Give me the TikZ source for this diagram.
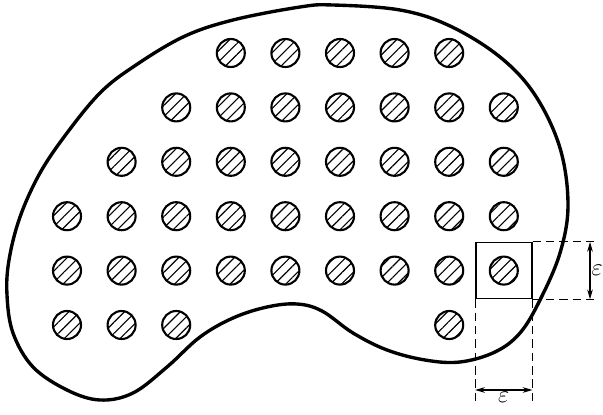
\documentclass[tikz,border=0pt]{standalone}
\usetikzlibrary{arrows.meta, patterns.meta}

\begin{document}
\begin{tikzpicture}[x=0.025cm, y=-0.025cm,
    bead/.style={circle, draw, line width=1.5pt, minimum size=0.7cm,
                 inner sep=0pt,
                 pattern={Lines[angle=45, distance=5.6pt, line width=0.8pt]}},
    outline/.style={line width=2.4pt, line join=round},
    cellbox/.style={draw, line width=1pt, minimum size=1.4cm, inner sep=0pt},
    guide/.style={dash pattern=on 6pt off 3.5pt, line width=0.8pt},
    dimline/.style={{Stealth[length=7pt, width=4pt]}-{Stealth[length=7pt, width=4pt]},
                    line width=0.8pt},
    dimlabel/.style={font=\LARGE, inner sep=1pt},
  ]

  \def\cs{54.6}   % column pitch
  \def\rs{54.4}   % row pitch

  \useasboundingbox (0,0) rectangle (603,414);

  % =========================================================
  %  region boundary
  % =========================================================
  \draw[outline] plot[smooth cycle, tension=0.6] coordinates {
    (333,5) (400,10) (450,26) (500,57) (535,95) (560,148)
    (568,205) (560,253) (540,300) (520,333) (495,352) (460,362)
    (425,360) (387,350) (353,333) (322,311) (297,304) (267,307)
    (233,318) (200,337) (167,367) (133,393) (100,400) (67,390)
    (33,367) (13,333) (7,295) (9,260) (20,217) (40,173) (67,133)
    (100,93) (133,67) (183,37) (233,20) (300,7)};

  % =========================================================
  %  hatched inclusions
  % =========================================================
  \foreach \r/\first/\last in {0/3/7, 1/2/8, 2/1/8, 3/0/8, 4/0/8}{
    \foreach \c in {\first,...,\last}{
      \node[bead] (h\r\c) at (67+\c*\cs, 53+\r*\rs) {};
    }
  }
  \foreach \c in {0,1,2,7}{
    \node[bead] (h5\c) at (67+\c*\cs, 53+5*\rs) {};
  }

  % unit cell round one inclusion
  \node[cellbox] (sq) at (h48) {};

  % =========================================================
  %  dimensions
  % =========================================================
  \coordinate (gx) at (598,0);
  \coordinate (ax) at (590,0);
  \coordinate (gy) at (0,401);
  \coordinate (ay) at (0,390);

  \draw[guide] (sq.north east) -- (sq.north east -| gx);
  \draw[guide] (sq.south east) -- (sq.south east -| gx);
  \draw[dimline] (sq.north east -| ax) -- (sq.south east -| ax);
  \node[dimlabel, anchor=west] (epsR) at (sq.east -| ax) {$\varepsilon$};

  \draw[guide] (sq.south west) -- (sq.south west |- gy);
  \draw[guide] (sq.south east) -- (sq.south east |- gy);
  \draw[dimline] (sq.south west |- ay) -- (sq.south east |- ay);
  \node[dimlabel, anchor=north] (epsB) at (sq.south |- ay) {$\varepsilon$};

\end{tikzpicture}
\end{document}
